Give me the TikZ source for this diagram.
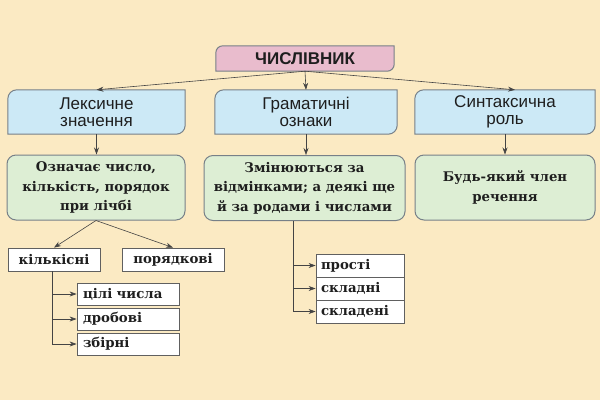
\documentclass[tikz,border=0pt]{standalone}
\usepackage{fontspec}
\newfontfamily\sansf{Liberation Sans}
\newfontfamily\serifb{DejaVu Serif}
\usetikzlibrary{arrows.meta}
\definecolor{bgc}{HTML}{FBEAC3}
\definecolor{pinkc}{HTML}{E9BCCD}
\definecolor{bluec}{HTML}{CCE9F6}
\definecolor{greenc}{HTML}{DDEED4}
\definecolor{edgec}{HTML}{778088}
\definecolor{linec}{HTML}{444444}
\definecolor{txtc}{HTML}{1E1E1E}
\pgfdeclarelayer{back}
\pgfdeclarelayer{mid}
\pgfsetlayers{back,mid,main}
\newcommand\tabshape[3]{% name, fill, radius
  \begin{pgfonlayer}{mid}
  \draw[fill=#2,draw=edgec,line width=1pt]
    (#1.south west) -- ([yshift=-#3]#1.north west)
    arc[start angle=180,end angle=90,radius=#3] -- (#1.north east)
    -- ([yshift=#3]#1.south east)
    arc[start angle=0,end angle=-90,radius=#3] -- cycle;
  \end{pgfonlayer}}
\tikzset{
  base/.style={inner sep=0pt,align=center,text=txtc},
  topbox/.style={base,font=\sansf\bfseries\fontsize{17}{19}\selectfont},
  headbox/.style={base,font=\sansf\fontsize{17}{17.5}\selectfont},
  greenbox/.style={base,draw=edgec,fill=greenc,line width=1pt,rounded corners=9pt,
    font=\serifb\bfseries\fontsize{13.3}{19.5}\selectfont},
  whitebox/.style={base,draw=linec!85,fill=white,line width=0.8pt,
    font=\serifb\bfseries\fontsize{13.3}{15}\selectfont},
  listbox/.style={whitebox,text width=90pt,align=left,minimum width=102pt,minimum height=22pt},
  conn/.style={draw=linec,line width=0.6pt,-{Stealth[length=7pt,width=5pt]}},
}
\begin{document}
\begin{tikzpicture}[x=1pt,y=-1pt]
\begin{pgfonlayer}{back}
\fill[bgc] (0,0) rectangle (600,400);
\end{pgfonlayer}
\useasboundingbox (0,0) rectangle (600,400);

\node[topbox,minimum width=178pt,minimum height=25pt] (top) at (305,58.5) {ЧИСЛІВНИК};
\tabshape{top}{pinkc}{7pt}

\node[headbox,minimum width=177pt,minimum height=44pt] (lex) at (96.5,112) {Лексичне\\значення};
\node[headbox,minimum width=182pt,minimum height=44pt] (gram) at (306,112) {Граматичні\\ознаки};
\node[headbox,minimum width=180pt,minimum height=44pt] (synt) at (505,112) {Синтаксична\\роль};
\tabshape{lex}{bluec}{9pt}
\tabshape{gram}{bluec}{9pt}
\tabshape{synt}{bluec}{9pt}

\node[greenbox,minimum width=178pt,minimum height=65pt] (gl) at (96,187.5) {Означає число,\\кількість, порядок\\при лічбі};
\node[greenbox,minimum width=201pt,minimum height=65pt] (gm) at (304.5,188) {Змінюються за\\відмінками; а деякі ще\\й за родами і числами};
\node[greenbox,minimum width=180pt,minimum height=65pt] (gr) at (505,187.5) {Будь-який член\\речення};

\node[whitebox,minimum width=92pt,minimum height=23pt] (kil) at (54,259.5) {кількісні};
\node[whitebox,minimum width=102pt,minimum height=23pt] (por) at (173,259.5) {порядкові};

\node[listbox] (cil) at (128,294) {цілі числа};
\node[listbox] (drob) at (128,319) {дробові};
\node[listbox] (zbir) at (128,344) {збірні};

\node[listbox,text width=78pt,minimum width=88pt,minimum height=23pt] (pros) at (360,265.5) {прості};
\node[listbox,text width=78pt,minimum width=88pt,minimum height=23pt] (skl) at (360,288.5) {складні};
\node[listbox,text width=78pt,minimum width=88pt,minimum height=23pt] (skld) at (360,311.5) {складені};

\coordinate (synttip) at ([xshift=10pt]synt.north);
\coordinate (gmfoot) at ([xshift=-11.5pt]gm.south);
\coordinate (kilfoot) at ([xshift=-2pt]kil.south);

\draw[conn] (top.south) -- (lex.north);
\draw[conn] (top.south) -- (gram.north);
\draw[conn] (top.south) -- (synttip);
\draw[conn] (lex.south) -- (lex.south |- gl.north);
\draw[conn] (gram.south) -- (gram.south |- gm.north);
\draw[conn] (synt.south) -- (synt.south |- gr.north);
\draw[conn] (gl.south) -- (kil.north);
\draw[conn] (gl.south) -- (por.north);
\draw[conn] (kilfoot) |- (cil.west);
\draw[conn] (kilfoot) |- (drob.west);
\draw[conn] (kilfoot) |- (zbir.west);
\draw[conn] (gmfoot) |- (pros.west);
\draw[conn] (gmfoot) |- (skl.west);
\draw[conn] (gmfoot) |- (skld.west);
\end{tikzpicture}
\end{document}
